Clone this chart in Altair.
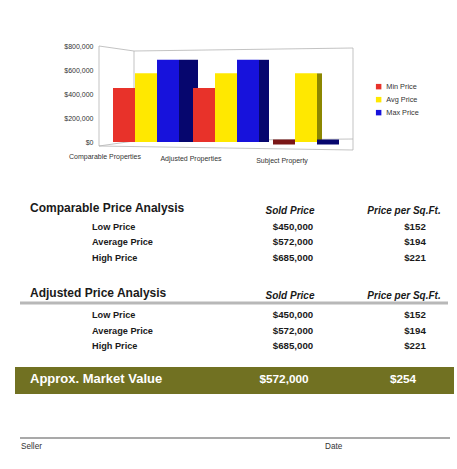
import altair as alt
import pandas as pd

FONT = "Liberation Sans"

# ---------------- data ----------------
groups = ["Comparable Properties", "Adjusted Properties", "Subject Property"]
series = ["Min Price", "Avg Price", "Max Price"]
comparable_prices = [450000, 572000, 685000]
adjusted_prices = [450000, 572000, 685000]
subject_prices = [0, 572000, 0]
comparable_sqft = [152, 194, 221]
adjusted_sqft = [152, 194, 221]
market_value = 572000
market_sqft = 254
y_ticks = [0, 200000, 400000, 600000, 800000]

section_titles = ["Comparable Price Analysis", "Adjusted Price Analysis"]
column_headers = ["Sold Price", "Price per Sq.Ft."]
row_labels = ["Low Price", "Average Price", "High Price"]
market_label = "Approx. Market Value"
signature_labels = ["Seller", "Date"]

bright = ["#e8322a", "#ffe800", "#1712dc"]
dark = ["#7a1616", "#8c8700", "#06066e"]
side_widths = [19, 10, 5]   # perspective depth of the side faces, per group (px)

# ---------------- bar chart ----------------
bar_rows = []
for g, vals in zip(groups, [comparable_prices, adjusted_prices, subject_prices]):
    for s, v in zip(series, vals):
        bar_rows.append({"group": g, "series": s, "value": v})
bar_df = pd.DataFrame(bar_rows)

x_bar = alt.X(
    "group:N",
    sort=groups,
    scale=alt.Scale(domain=groups, range=[100, 352], paddingInner=0.175, paddingOuter=0.1625),
    axis=alt.Axis(
        orient="bottom", offset=-323, title=None, ticks=False, domain=False, labelAngle=0,
        labelFont=FONT, labelFontSize=7, labelColor="#333",
        labelPadding={"condition": [
            {"test": "datum.value == 'Comparable Properties'", "value": 6},
            {"test": "datum.value == 'Adjusted Properties'", "value": 8}], "value": 10},
        labelOffset={"condition": [
            {"test": "datum.value == 'Comparable Properties'", "value": -41},
            {"test": "datum.value == 'Adjusted Properties'", "value": -35}], "value": -24},
    ),
)
SLOT = 22  # width of one sub-band (66 px band / 3 series)
xo_front = alt.XOffset("series:N", sort=series,
                       scale=alt.Scale(domain=series, paddingInner=0, paddingOuter=0))
y_bar = alt.Y(
    "value:Q",
    scale=alt.Scale(domain=[0, 800000], range=[142, 46], nice=False),
    axis=alt.Axis(values=y_ticks, format="$,.0f", title=None, ticks=False, domain=False,
                  grid=False, offset=-99, labelPadding=6, labelFont=FONT, labelFontSize=7,
                  labelColor="#333"),
)

base_bar = alt.Chart(bar_df)

side_layers = []
for g, w in zip(groups, side_widths):
    pi = 1 - w / SLOT
    xo_side = alt.XOffset("series:N", sort=series,
                          scale=alt.Scale(domain=series, range=[SLOT, SLOT + SLOT * (3 - pi)],
                                          paddingInner=pi, paddingOuter=0))
    side_layers.append(
        base_bar.transform_filter(alt.datum.group == g).mark_bar().encode(
            x=x_bar, xOffset=xo_side, y=y_bar,
            fill=alt.Fill("series:N", scale=alt.Scale(domain=series, range=dark), legend=None),
        )
    )

fronts = base_bar.mark_bar().encode(
    x=x_bar, xOffset=xo_front, y=y_bar,
    color=alt.Color(
        "series:N", scale=alt.Scale(domain=series, range=bright),
        legend=alt.Legend(orient="none", legendX=375, legendY=83, title=None,
                          symbolType="square", symbolSize=30, labelFont=FONT,
                          labelFontSize=7.3, labelColor="#333", rowPadding=5, padding=0),
    ),
)
flats = base_bar.transform_filter("datum.value == 0").mark_bar(strokeWidth=5).encode(
    x=x_bar, xOffset=xo_front, y=y_bar,
    stroke=alt.Stroke("series:N", scale=alt.Scale(domain=series, range=dark), legend=None),
)
bar_group = alt.layer(*side_layers, fronts, flats).resolve_scale(xOffset="independent")

# ---------------- frame & decorations ----------------
def seg(x, y, x2, y2, color="#b4b4b4", w=0.8):
    return alt.Chart(pd.DataFrame({"k": [0]})).mark_rule(color=color, strokeWidth=w).encode(
        x=alt.value(x), y=alt.value(y), x2=alt.value(x2), y2=alt.value(y2))

frame = [
    seg(99, 46, 134, 51), seg(134, 51, 353, 48), seg(134, 51, 134, 141),
    seg(353, 48, 353, 150), seg(99, 46, 99, 146), seg(99, 146, 353, 150),
    seg(99, 146, 134, 141), seg(134, 141, 353, 139),
]
band = alt.Chart(pd.DataFrame({"k": [0]})).mark_rect(color="#717122").encode(
    x=alt.value(15), x2=alt.value(454), y=alt.value(367), y2=alt.value(394))
separator = seg(20, 303, 448, 303, color="#b8b8b8", w=3)
sign_line = seg(20, 438, 450, 438, color="#555555", w=1.2)

# ---------------- table ----------------
def money(v):
    return f"${v:,.0f}"

cells = [("comp_title", "title", section_titles[0], "title"),
         ("comp_hdr", "sold_hdr", column_headers[0], "hdr"),
         ("comp_hdr", "sqft_hdr", column_headers[1], "hdr")]
for key, lab, s, q in zip(["comp_low", "comp_avg", "comp_high"], row_labels,
                          comparable_prices, comparable_sqft):
    cells += [(key, "label", lab, "label"), (key, "sold", money(s), "value"),
              (key, "sqft", money(q), "value")]
cells += [("adj_title", "title", section_titles[1], "title"),
          ("adj_hdr", "sold_hdr", column_headers[0], "hdr"),
          ("adj_hdr", "sqft_hdr", column_headers[1], "hdr")]
for key, lab, s, q in zip(["adj_low", "adj_avg", "adj_high"], row_labels,
                          adjusted_prices, adjusted_sqft):
    cells += [(key, "label", lab, "label"), (key, "sold", money(s), "value"),
              (key, "sqft", money(q), "value")]
cells += [("mv", "title", market_label, "mv_label"),
          ("mv", "mv_sold", money(market_value), "mv_value"),
          ("mv", "mv_sqft", money(market_sqft), "mv_value"),
          ("sign", "sign_l", signature_labels[0], "sign"),
          ("sign", "date", signature_labels[1], "sign")]

row_keys = ["comp_title", "comp_hdr", "comp_low", "comp_avg", "comp_high",
            "adj_title", "adj_hdr", "adj_low", "adj_avg", "adj_high", "mv", "sign"]
row_pos = [208, 211, 227, 242, 258, 293, 296, 315, 331, 346, 379, 447]
col_keys = ["sign_l", "title", "label", "mv_sold", "sold_hdr", "sold", "date",
            "mv_sqft", "sqft_hdr", "sqft"]
col_pos = [21, 30, 92, 284, 290, 293, 325, 403, 404, 415]

table_df = pd.DataFrame(cells, columns=["row", "col", "text", "kind"])
table_df["r"] = table_df["row"].map({k: i for i, k in enumerate(row_keys)})
table_df["c"] = table_df["col"].map({k: i for i, k in enumerate(col_keys)})

x_t = alt.X("c:Q", scale=alt.Scale(domain=list(range(len(col_keys))), range=col_pos,
                                   nice=False, zero=False), axis=None)
y_t = alt.Y("r:Q", scale=alt.Scale(domain=list(range(len(row_keys))), range=row_pos,
                                   nice=False, zero=False), axis=None)

def text_layer(kind, **mk):
    return alt.Chart(table_df).transform_filter(alt.datum.kind == kind).mark_text(
        baseline="middle", font=FONT, **mk).encode(x=x_t, y=y_t, text="text:N")

table_group = alt.layer(
    text_layer("title", align="left", fontSize=12, fontWeight="bold", color="#1a1a1a"),
    text_layer("hdr", align="center", fontSize=10, fontWeight="bold", fontStyle="italic",
               color="#1a1a1a"),
    text_layer("label", align="left", fontSize=9.2, fontWeight="bold", color="#1a1a1a"),
    text_layer("value", align="center", fontSize=9.7, fontWeight="bold", color="#1a1a1a"),
    text_layer("mv_label", align="left", fontSize=13, fontWeight="bold", color="white"),
    text_layer("mv_value", align="center", fontSize=11.8, fontWeight="bold", color="white"),
    text_layer("sign", align="left", fontSize=8.2, color="#333333"),
)

chart = alt.layer(
    band, separator, sign_line, *frame, bar_group, table_group
).resolve_scale(
    x="independent", y="independent", color="independent"
).properties(
    width=457, height=469, padding=0, background="white",
    autosize=alt.AutoSizeParams(type="none"),
).configure_view(stroke=None)

chart.save("out.html", embed_options={"renderer": "svg", "actions": False})
